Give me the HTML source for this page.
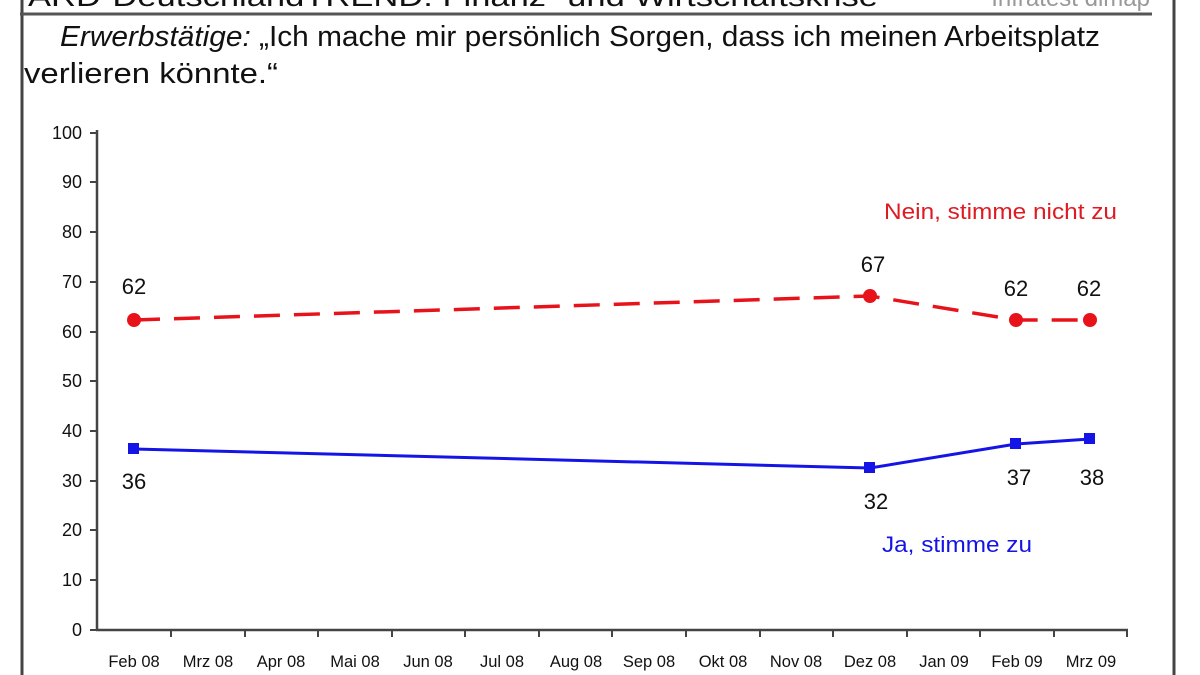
<!DOCTYPE html>
<html><head><meta charset="utf-8"><style>
html,body{margin:0;padding:0;background:#fff;}
svg{display:block}
text{font-family:"Liberation Sans",sans-serif;}
</style></head><body>
<svg width="1200" height="675" viewBox="0 0 1200 675">
<rect width="1200" height="675" fill="#fff"/>
<line x1="22" y1="0" x2="22" y2="675" stroke="#444" stroke-width="3"/>
<line x1="1174" y1="0" x2="1174" y2="675" stroke="#444" stroke-width="3"/>
<text x="28" y="6" font-size="28" fill="#111" textLength="850" lengthAdjust="spacingAndGlyphs">ARD-DeutschlandTREND: Finanz- und Wirtschaftskrise</text>
<text x="1150" y="6" font-size="24" fill="#999" text-anchor="end">Infratest dimap</text>
<line x1="20" y1="14" x2="1152" y2="14" stroke="#555" stroke-width="3"/>
<text x="60" y="46" font-size="29" fill="#111" textLength="1040" lengthAdjust="spacingAndGlyphs"><tspan font-style="italic">Erwerbstätige:</tspan> „Ich mache mir persönlich Sorgen, dass ich meinen Arbeitsplatz</text>
<text x="24" y="83" font-size="29" fill="#111" textLength="254" lengthAdjust="spacingAndGlyphs">verlieren könnte.“</text>
<g stroke="#444" stroke-width="2.5">
<line x1="97" y1="130" x2="97" y2="631"/>
<line x1="96" y1="630" x2="1128" y2="630"/>
</g>
<g font-size="18" fill="#111" text-anchor="end">
<text x="82" y="636">0</text><text x="82" y="586">10</text><text x="82" y="536">20</text><text x="82" y="487">30</text><text x="82" y="437">40</text><text x="82" y="387">50</text><text x="82" y="338">60</text><text x="82" y="288">70</text><text x="82" y="238">80</text><text x="82" y="188">90</text><text x="82" y="139">100</text>
</g>
<g stroke="#444" stroke-width="2">
<line x1="90" y1="630" x2="97" y2="630"/><line x1="90" y1="580" x2="97" y2="580"/><line x1="90" y1="530" x2="97" y2="530"/><line x1="90" y1="481" x2="97" y2="481"/><line x1="90" y1="431" x2="97" y2="431"/><line x1="90" y1="381" x2="97" y2="381"/><line x1="90" y1="332" x2="97" y2="332"/><line x1="90" y1="282" x2="97" y2="282"/><line x1="90" y1="232" x2="97" y2="232"/><line x1="90" y1="182" x2="97" y2="182"/><line x1="90" y1="133" x2="97" y2="133"/>
<line x1="171" y1="630" x2="171" y2="637"/><line x1="245" y1="630" x2="245" y2="637"/><line x1="318" y1="630" x2="318" y2="637"/><line x1="392" y1="630" x2="392" y2="637"/><line x1="465" y1="630" x2="465" y2="637"/><line x1="539" y1="630" x2="539" y2="637"/><line x1="612" y1="630" x2="612" y2="637"/><line x1="686" y1="630" x2="686" y2="637"/><line x1="760" y1="630" x2="760" y2="637"/><line x1="833" y1="630" x2="833" y2="637"/><line x1="907" y1="630" x2="907" y2="637"/><line x1="980" y1="630" x2="980" y2="637"/><line x1="1054" y1="630" x2="1054" y2="637"/><line x1="1127" y1="630" x2="1127" y2="637"/>
</g>
<g font-size="16.5" fill="#111" text-anchor="middle">
<text x="134" y="667">Feb 08</text><text x="208" y="667">Mrz 08</text><text x="281" y="667">Apr 08</text><text x="355" y="667">Mai 08</text><text x="428" y="667">Jun 08</text><text x="502" y="667">Jul 08</text><text x="576" y="667">Aug 08</text><text x="649" y="667">Sep 08</text><text x="723" y="667">Okt 08</text><text x="796" y="667">Nov 08</text><text x="870" y="667">Dez 08</text><text x="944" y="667">Jan 09</text><text x="1017" y="667">Feb 09</text><text x="1091" y="667">Mrz 09</text>
</g>
<polyline points="134,320 870,296 1016,320 1090,320" fill="none" stroke="#e8121a" stroke-width="3.5" stroke-dasharray="26,14"/>
<g fill="#e8121a"><circle cx="134" cy="320" r="7"/><circle cx="870" cy="296" r="7"/><circle cx="1016" cy="320" r="7"/><circle cx="1090" cy="320" r="7"/></g>
<polyline points="134,449 870,468 1016,444 1090,439" fill="none" stroke="#1414e6" stroke-width="3"/>
<g fill="#1414e6"><rect x="128" y="443" width="11" height="11"/><rect x="864" y="462" width="11" height="11"/><rect x="1010" y="438" width="11" height="11"/><rect x="1084" y="433" width="11" height="11"/></g>
<g font-size="22" fill="#111" text-anchor="middle">
<text x="134" y="294">62</text><text x="873" y="272">67</text><text x="1016" y="296">62</text><text x="1089" y="296">62</text>
<text x="134" y="489">36</text><text x="876" y="509">32</text><text x="1019" y="485">37</text><text x="1092" y="485">38</text>
</g>
<text x="1117" y="219" font-size="22" fill="#e01a22" text-anchor="end" textLength="233" lengthAdjust="spacingAndGlyphs">Nein, stimme nicht zu</text>
<text x="882" y="552" font-size="22" fill="#1414e6" textLength="150" lengthAdjust="spacingAndGlyphs">Ja, stimme zu</text>
</svg>
</body></html>
